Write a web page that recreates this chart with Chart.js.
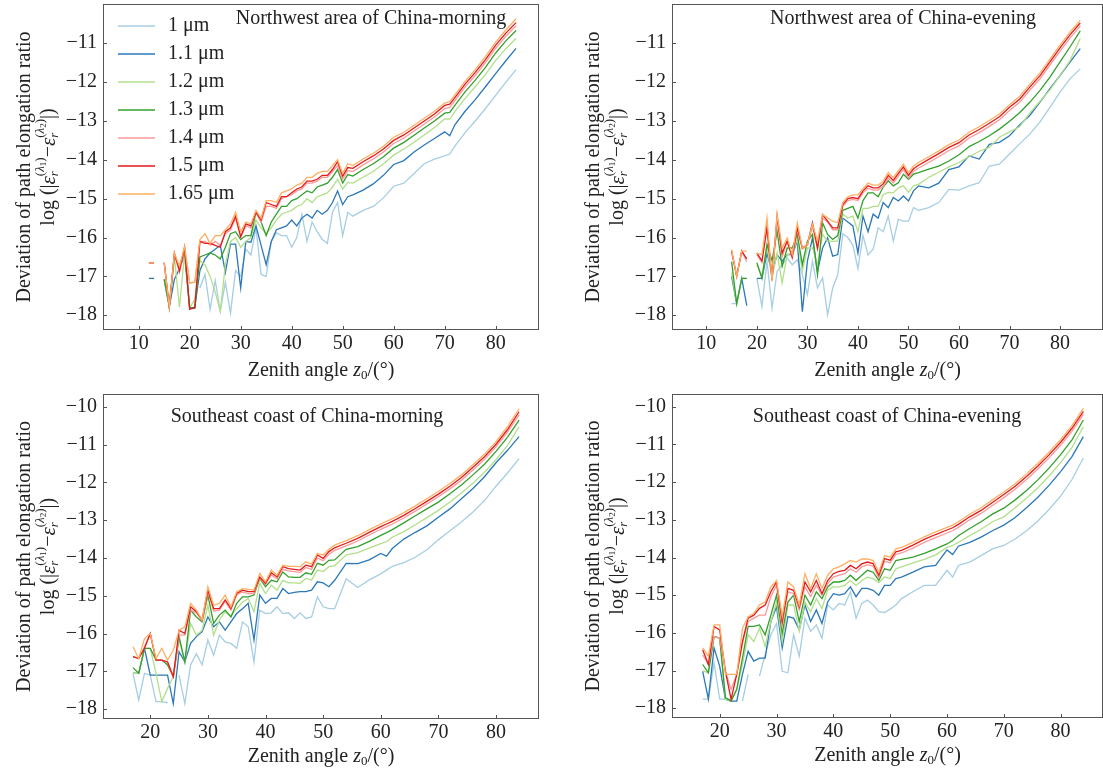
<!DOCTYPE html>
<html>
<head>
<meta charset="utf-8">
<script src="https://cdn.jsdelivr.net/npm/chart.js@4.4.1/dist/chart.umd.min.js"></script>
<style>
html, body { margin: 0; padding: 0; background: #fff; overflow: hidden; width: 1103px; height: 775px; }
canvas { position: absolute; }
</style>
</head>
<body>
<canvas id="cTL" width="560" height="390" style="left:0;top:0"></canvas>
<canvas id="cTR" width="543" height="390" style="left:560px;top:0"></canvas>
<canvas id="cBL" width="560" height="385" style="left:0;top:390px"></canvas>
<canvas id="cBR" width="543" height="385" style="left:560px;top:390px"></canvas>
<script>
// legend labels and line colours, one per wavelength
const wavelengths = ['1 \u03bcm', '1.1 \u03bcm', '1.2 \u03bcm', '1.3 \u03bcm', '1.4 \u03bcm', '1.5 \u03bcm', '1.65 \u03bcm'];
const lineColors = ['#a6cee3', '#2b78b8', '#b2df8a', '#33a02c', '#fb9a99', '#e31a1c', '#fdb062'];

// tick labels
const xTicksTop = [10, 20, 30, 40, 50, 60, 70, 80];
const xTicksBottom = [20, 30, 40, 50, 60, 70, 80];
const yTicksTop = [-18, -17, -16, -15, -14, -13, -12, -11];
const yTicksBottom = [-18, -17, -16, -15, -14, -13, -12, -11, -10];

// ---- Northwest area of China - morning ----
const tlAngles = [12,13,14,15,16,17,18,19,20,21,22,23,24,25,26,27,28,29,30,31,32,33,34,35,36,37,38,39,40,41,42,43,44,45,46,47,48,49,50,51,52,54,56,58,60,62,64,66,68,70,71,72,74,76,78,80,82,84];
const tl100 = [null,null,null,null,null,null,null,null,null,null,
  -17.3,-16.95,-17.85,-17.1,-17.9,-17.15,-17.95,-16.85,-17.0,-16.3,
  -16.45,-15.75,-16.95,-17.0,-16.1,-15.88,-15.95,-15.95,-16.25,-16.0,
  -15.4,-16.1,-15.6,-15.85,-16.05,-16.15,-15.35,-15.1,-15.95,-15.35,
  -15.45,
  -15.3,-15.2,-14.98,-14.68,-14.6,-14.35,-14.1,-13.98,-13.9,-13.85,-13.65,-13.3,-13.0,-12.68,-12.34,-12.0,-11.68];
const tl110 = [-17.05,-17.05,null,-17.08,-17.78,-17.08,-16.8,-16.45,-17.82,-17.8,
  -16.85,-16.55,-16.4,-16.3,-16.2,-16.9,-16.17,-16.17,-17.3,-16.1,
  -16.12,-15.7,-16.2,-16.7,-16.1,-15.8,-15.75,-15.7,-15.55,-15.7,
  -15.5,-15.4,-15.5,-15.3,-15.4,-15.3,-15.1,-14.8,-15.15,-14.95,
  -14.9,
  -14.78,-14.62,-14.4,-14.12,-14.02,-13.8,-13.62,-13.45,-13.28,-13.38,-13.1,-12.75,-12.45,-12.12,-11.78,-11.45,-11.13];
const tl120 = [null,null,null,-17.08,-17.78,-16.5,-17.8,-16.4,-17.8,-17.6,
  -16.6,-16.7,-17.0,-17.4,-17.9,-16.7,-16.1,-16.0,-16.25,-16.1,
  -16.0,-15.55,-15.75,-15.9,-15.75,-15.55,-15.4,-15.35,-15.3,-15.2,
  -15.15,-15.0,-15.1,-14.95,-14.9,-14.85,-14.7,-14.5,-14.75,-14.58,
  -14.6,
  -14.45,-14.3,-14.1,-13.88,-13.72,-13.55,-13.36,-13.17,-12.95,-12.95,-12.76,-12.42,-12.12,-11.8,-11.44,-11.14,-10.87];
const tl130 = [null,null,null,-17.08,-17.78,-16.48,-16.74,-16.31,-17.82,-17.82,
  -16.5,-16.45,-16.4,-16.45,-16.55,-16.25,-15.9,-15.85,-16.05,-15.95,
  -15.95,-15.35,-15.6,-15.95,-15.6,-15.4,-15.2,-15.2,-15.05,-15.0,
  -14.9,-14.8,-14.85,-14.7,-14.65,-14.6,-14.45,-14.25,-14.6,-14.38,
  -14.42,
  -14.25,-14.1,-13.92,-13.7,-13.55,-13.37,-13.18,-13.0,-12.8,-12.78,-12.6,-12.25,-11.95,-11.62,-11.25,-10.94,-10.67];
const tl140 = [-16.65,-16.65,null,-16.65,-17.78,-16.42,-16.9,-16.28,-17.17,-17.15,
  -16.1,-16.1,-16.2,-16.1,-16.2,-15.9,-15.8,-15.5,-16.0,-15.7,
  -15.75,-15.35,-15.6,-15.2,-15.2,-15.25,-15.0,-14.95,-14.9,-14.8,
  -14.75,-14.6,-14.6,-14.55,-14.45,-14.45,-14.3,-14.15,-14.5,-14.28,
  -14.3,
  -14.13,-13.98,-13.8,-13.58,-13.44,-13.26,-13.08,-12.9,-12.68,-12.65,-12.48,-12.13,-11.83,-11.5,-11.13,-10.82,-10.55];
const tl150 = [-16.65,-16.65,null,-16.65,-17.78,-16.4,-16.85,-16.25,-17.85,-17.8,
  -16.1,-16.15,-16.15,-16.2,-16.25,-15.85,-15.75,-15.45,-15.98,-15.65,
  -15.7,-15.35,-15.55,-15.1,-15.15,-15.2,-14.95,-14.95,-14.85,-14.75,
  -14.7,-14.55,-14.55,-14.5,-14.4,-14.4,-14.25,-14.05,-14.42,-14.2,
  -14.22,
  -14.05,-13.9,-13.72,-13.5,-13.36,-13.18,-13.0,-12.82,-12.6,-12.57,-12.4,-12.05,-11.75,-11.42,-11.05,-10.74,-10.47];
const tl165 = [-16.65,-16.65,null,-16.65,-17.78,-16.4,-16.74,-16.23,-17.17,-17.15,
  -16.05,-15.9,-16.15,-15.95,-15.95,-15.8,-15.65,-15.35,-15.85,-15.6,
  -15.65,-15.3,-15.5,-15.05,-15.05,-15.1,-14.85,-14.8,-14.75,-14.65,
  -14.6,-14.45,-14.45,-14.35,-14.3,-14.3,-14.15,-14.0,-14.35,-14.1,
  -14.15,
  -13.98,-13.83,-13.65,-13.42,-13.29,-13.11,-12.93,-12.75,-12.54,-12.5,-12.33,-11.98,-11.68,-11.34,-10.97,-10.66,-10.37];

// ---- Northwest area of China - evening ----
const trAngles = [15,16,17,18,19,20,21,22,23,24,25,26,27,28,29,30,31,32,33,34,35,36,37,38,39,40,41,42,43,44,45,46,47,48,49,50,51,52,54,56,58,60,62,64,66,68,70,72,74,76,78,80,82,84];
const tr100 = [-17.7,-17.7,null,null,null,-17.05,-17.78,-16.61,-17.82,-16.87,
  -16.7,-16.53,-16.7,-16.57,-16.96,-17.47,-16.61,-17.3,-17.04,-17.99,
  -17.3,-16.96,-15.9,-16.0,-16.2,-16.8,-15.95,-16.45,-16.3,-15.75,
  -15.85,-15.45,-16.09,-15.53,-15.58,-15.58,-15.23,-15.3,
  -15.23,-15.1,-14.76,-14.78,-14.67,-14.59,-14.16,-14.11,-13.85,-13.59,-13.34,-13.03,-12.65,-12.26,-11.91,-11.66];
const tr110 = [-17.0,-17.7,-17.05,-17.75,null,-17.05,-17.05,-16.4,-16.9,-16.44,
  -16.61,-16.44,-16.44,-16.09,-17.91,-16.61,-16.01,-16.87,-16.27,-16.01,
  -16.48,-16.44,-15.5,-15.6,-15.7,-16.4,-15.45,-15.85,-15.4,-15.5,
  -15.1,-15.23,-14.97,-15.06,-14.93,-15.06,-14.8,-14.67,
  -14.72,-14.6,-14.25,-14.18,-13.9,-13.98,-13.6,-13.55,-13.38,-13.1,-12.86,-12.52,-12.17,-11.83,-11.48,-11.14];
const tr120 = [-16.9,-17.7,-17.05,-17.05,null,-16.7,-17.0,-16.22,-17.04,-16.4,
  -17.17,-16.44,-16.4,-16.05,-16.87,-16.27,-16.27,-16.7,-15.92,-16.09,
  -16.1,-16.09,-15.4,-15.5,-15.45,-15.85,-15.25,-15.25,-15.2,-15.2,
  -14.9,-14.84,-14.85,-14.72,-14.67,-14.84,-14.67,-14.63,
  -14.45,-14.32,-14.18,-14.07,-13.92,-13.78,-13.68,-13.42,-13.28,-13.15,-12.8,-12.5,-12.2,-11.83,-11.44,-10.88];
const tr130 = [-16.62,-17.7,-17.05,-17.05,null,-16.65,-17.05,-16.18,-16.6,-15.84,
  -16.74,-16.27,-16.27,-15.92,-16.7,-16.09,-15.92,-16.96,-15.62,-15.92,
  -16.05,-15.95,-15.3,-15.25,-15.2,-15.5,-15.05,-14.85,-14.85,-14.95,
  -14.7,-14.54,-14.67,-14.59,-14.37,-14.5,-14.37,-14.33,
  -14.24,-14.16,-14.03,-13.87,-13.66,-13.53,-13.38,-13.21,-13.01,-12.79,-12.52,-12.22,-11.87,-11.48,-11.09,-10.68];
const tr140 = [-16.35,-17.0,-16.35,-16.62,null,-16.45,-16.65,-15.7,-17.0,-15.55,
  -16.5,-16.1,-16.53,-15.8,-16.3,-16.2,-15.7,-16.3,-15.5,-15.6,
  -15.8,-15.8,-15.2,-15.05,-15.02,-15.05,-14.85,-14.73,-14.78,-14.78,
  -14.68,-14.47,-14.6,-14.42,-14.25,-14.47,-14.3,-14.21,
  -14.07,-13.92,-13.76,-13.64,-13.44,-13.3,-13.14,-12.97,-12.73,-12.52,-12.21,-11.92,-11.56,-11.2,-10.86,-10.56];
const tr150 = [-16.35,-17.0,-16.35,-16.55,null,-16.4,-16.6,-15.75,-17.1,-15.45,
  -16.4,-16.09,-16.5,-15.75,-16.27,-16.18,-15.62,-16.27,-15.41,-15.58,
  -15.75,-15.75,-15.15,-15.0,-14.97,-15.0,-14.8,-14.67,-14.72,-14.72,
  -14.62,-14.4,-14.53,-14.35,-14.18,-14.4,-14.23,-14.14,
  -13.99,-13.84,-13.68,-13.56,-13.36,-13.22,-13.06,-12.89,-12.65,-12.44,-12.13,-11.84,-11.48,-11.12,-10.78,-10.48];
const tr165 = [-16.31,-17.0,-16.35,-16.35,null,-16.4,-16.44,-15.49,-17.13,-15.41,
  -16.27,-16.01,-16.44,-15.62,-16.27,-16.18,-15.66,-16.09,-15.41,-15.49,
  -15.58,-15.62,-15.1,-14.95,-14.9,-14.9,-14.75,-14.6,-14.65,-14.65,
  -14.55,-14.33,-14.46,-14.28,-14.11,-14.33,-14.16,-14.07,
  -13.92,-13.77,-13.61,-13.49,-13.29,-13.15,-12.99,-12.82,-12.58,-12.37,-12.06,-11.77,-11.41,-11.05,-10.71,-10.41];

// ---- Southeast coast of China - morning ----
const blAngles = [17,18,19,20,21,22,23,24,25,26,27,28,29,30,31,32,33,34,35,36,37,38,39,40,41,42,43,44,45,46,47,48,49,50,51,52,54,56,58,60,61,62,64,66,68,70,72,74,76,78,80,82,84];
const bl100 = [-17.05,-17.76,-17.05,-17.1,-17.8,-17.8,-17.83,null,-17.1,-17.85,
  -16.83,-16.53,-16.83,-16.17,-16.57,-16.04,-16.22,-16.26,-16.39,-15.69,
  -15.82,-16.75,-15.38,-15.47,-15.45,-15.29,-15.47,-15.45,-15.6,-15.45,
  -15.6,-15.56,-15.03,-15.29,-15.34,-15.34,
  -14.55,-14.78,-14.58,-14.42,-14.32,-14.22,-14.12,-13.98,-13.78,-13.52,-13.28,-13.05,-12.78,-12.48,-12.1,-11.75,-11.37];
const bl110 = [-17.05,-17.05,-16.39,-17.1,-17.1,-17.1,-17.1,-17.85,-16.48,-16.75,
  -16.26,-16.08,-15.95,-15.56,-15.82,-15.69,-15.91,-15.69,-15.47,-15.34,
  -15.2,-16.17,-14.98,-15.2,-15.07,-15.07,-14.81,-14.94,-14.91,-14.89,
  -14.89,-14.85,-14.63,-14.66,-14.76,-14.59,
  -14.14,-14.15,-14.05,-13.88,-13.95,-13.75,-13.5,-13.32,-13.15,-12.92,-12.7,-12.43,-12.16,-11.85,-11.48,-11.15,-10.79];
const bl120 = [-17.05,-17.05,-16.39,-16.39,-17.05,-17.8,-17.45,-17.14,-16.17,-16.75,
  -15.73,-16.04,-15.91,-15.25,-16.04,-15.64,-15.42,-15.54,-15.34,-15.17,
  -15.07,-15.42,-14.67,-14.94,-14.72,-14.85,-14.59,-14.66,-14.66,-14.67,
  -14.54,-14.58,-14.32,-14.36,-14.23,-14.2,
  -13.92,-13.86,-13.74,-13.62,-13.57,-13.45,-13.3,-13.12,-12.93,-12.74,-12.52,-12.28,-12.02,-11.73,-11.4,-11.02,-10.53];
const bl130 = [-16.9,-17.05,-16.39,-16.39,-16.7,-16.7,-16.83,-17.14,-16.08,-16.75,
  -15.38,-15.56,-15.69,-14.98,-15.73,-15.51,-15.38,-15.56,-15.2,-15.03,
  -15.03,-14.98,-14.54,-14.76,-14.59,-14.63,-14.37,-14.5,-14.51,-14.51,
  -14.39,-14.43,-14.14,-14.19,-14.06,-14.05,
  -13.77,-13.7,-13.56,-13.4,-13.33,-13.25,-13.07,-12.88,-12.7,-12.52,-12.3,-12.07,-11.8,-11.52,-11.18,-10.8,-10.35];
const bl140 = [-16.61,-16.66,-16.35,-16.0,-16.7,-16.7,-16.75,-17.14,-16.04,-16.04,
  -15.38,-15.45,-15.66,-14.9,-15.4,-15.38,-15.15,-15.38,-14.98,-14.9,
  -14.94,-14.94,-14.52,-14.7,-14.45,-14.55,-14.3,-14.34,-14.36,-14.38,
  -14.25,-14.3,-14.0,-14.07,-13.9,-13.8,
  -13.68,-13.55,-13.39,-13.24,-13.17,-13.1,-12.94,-12.76,-12.57,-12.38,-12.17,-11.94,-11.67,-11.39,-11.06,-10.67,-10.21];
const bl150 = [-16.61,-16.66,-16.39,-16.0,-16.7,-16.7,-16.75,-17.14,-15.91,-16.0,
  -15.29,-15.42,-15.64,-14.85,-15.34,-15.34,-15.11,-15.34,-14.94,-14.85,
  -14.89,-14.89,-14.5,-14.67,-14.39,-14.5,-14.23,-14.28,-14.3,-14.32,
  -14.19,-14.23,-13.92,-14.01,-13.83,-13.73,
  -13.61,-13.48,-13.32,-13.17,-13.1,-13.03,-12.87,-12.69,-12.5,-12.31,-12.1,-11.87,-11.6,-11.32,-10.99,-10.6,-10.13];
const bl165 = [-16.35,-16.66,-16.13,-16.0,-16.66,-16.39,-16.7,-16.44,-15.91,-15.82,
  -15.2,-15.38,-15.64,-14.76,-15.25,-15.2,-14.98,-15.29,-14.89,-14.81,
  -14.83,-14.85,-14.41,-14.63,-14.32,-14.45,-14.19,-14.22,-14.22,-14.23,
  -14.1,-14.16,-13.88,-13.92,-13.77,-13.66,
  -13.54,-13.41,-13.25,-13.1,-13.03,-12.96,-12.8,-12.62,-12.43,-12.24,-12.03,-11.8,-11.53,-11.25,-10.92,-10.52,-10.05];

// ---- Southeast coast of China - evening ----
const brAngles = [17,18,19,20,21,22,23,24,25,26,27,28,29,30,31,32,33,34,35,36,37,38,39,40,41,42,43,44,45,46,47,48,49,50,51,52,54,56,58,60,61,62,64,66,68,70,72,74,76,78,80,82,84];
const br100 = [-17.76,-17.76,-16.8,-17.76,-17.76,-17.76,null,-17.81,-17.1,null,
  -17.15,-16.58,-16.05,-15.75,-17.02,-17.06,-16.05,-16.62,-15.61,-15.96,
  -15.79,-16.14,-15.26,-15.39,-15.22,-15.26,-14.91,-15.61,-15.22,-15.13,
  -15.26,-15.44,-15.46,-15.37,-15.26,-15.09,
  -14.91,-14.74,-14.74,-14.34,-14.52,-14.21,-14.12,-13.95,-13.77,-13.68,-13.51,-13.29,-13.03,-12.72,-12.37,-11.93,-11.36];
const br110 = [-17.02,-17.76,-16.4,-16.89,-17.76,-17.81,-17.81,-17.1,-16.49,-16.75,
  -16.67,-16.67,-15.7,-15.31,-16.4,-15.57,-15.61,-15.92,-15.26,-15.7,
  -15.39,-15.75,-15.18,-14.96,-15.0,-14.96,-14.78,-15.04,-14.82,-14.82,
  -14.87,-15.0,-14.74,-14.74,-14.56,-14.52,
  -14.39,-14.25,-14.21,-13.8,-13.92,-13.7,-13.6,-13.46,-13.29,-13.14,-12.94,-12.68,-12.4,-12.08,-11.72,-11.32,-10.79];
const br120 = [-17.0,-17.06,-16.1,-16.14,-17.76,-17.81,-17.5,-16.84,-16.05,-16.23,
  -15.88,-16.36,-15.7,-15.18,-16.23,-15.26,-15.26,-15.96,-15.18,-15.44,
  -15.09,-15.35,-14.87,-14.78,-14.78,-14.74,-14.61,-14.74,-14.61,-14.52,
  -14.56,-14.67,-14.52,-14.56,-14.3,-14.25,
  -14.14,-14.05,-13.93,-13.73,-13.68,-13.6,-13.42,-13.25,-13.05,-12.92,-12.68,-12.42,-12.15,-11.83,-11.48,-11.08,-10.53];
const br130 = [-16.84,-17.06,-16.1,-16.14,-17.72,-17.81,-17.5,-16.67,-15.83,-15.83,
  -15.79,-16.05,-15.53,-15.0,-16.01,-15.18,-15.0,-15.7,-15.0,-15.26,
  -14.91,-15.09,-14.78,-14.65,-14.65,-14.61,-14.47,-14.61,-14.47,-14.34,
  -14.39,-14.61,-14.3,-14.34,-14.08,-14.05,
  -13.99,-13.89,-13.77,-13.64,-13.55,-13.42,-13.23,-13.05,-12.85,-12.69,-12.47,-12.22,-11.94,-11.62,-11.27,-10.88,-10.35];
const br140 = [-16.58,-16.84,-16.1,-16.14,-17.02,-17.5,-17.1,-16.27,-15.7,-15.61,
  -15.53,-15.53,-15.04,-14.74,-15.83,-14.91,-14.96,-15.39,-14.78,-15.04,
  -14.74,-15.0,-14.69,-14.52,-14.47,-14.43,-14.3,-14.39,-14.25,-14.19,
  -14.23,-14.54,-14.1,-14.14,-13.92,-13.88,
  -13.75,-13.6,-13.47,-13.35,-13.29,-13.2,-13.0,-12.83,-12.62,-12.41,-12.19,-11.93,-11.65,-11.35,-11.02,-10.65,-10.2];
const br150 = [-16.45,-16.84,-15.83,-15.92,-17.02,-17.76,-17.1,-16.23,-15.61,-15.53,
  -15.35,-15.26,-14.91,-14.65,-15.7,-14.82,-14.87,-15.31,-14.65,-14.91,
  -14.61,-14.96,-14.61,-14.43,-14.37,-14.34,-14.21,-14.3,-14.17,-14.12,
  -14.16,-14.47,-14.03,-14.07,-13.85,-13.81,
  -13.67,-13.52,-13.39,-13.27,-13.21,-13.12,-12.92,-12.75,-12.54,-12.33,-12.11,-11.85,-11.57,-11.27,-10.94,-10.57,-10.12];
const br165 = [-16.4,-16.62,-15.79,-15.79,-17.1,-17.1,-17.1,-15.88,-15.57,-15.48,
  -15.26,-15.18,-14.78,-14.61,-15.57,-14.65,-14.78,-15.26,-14.43,-14.82,
  -14.43,-14.82,-14.47,-14.3,-14.25,-14.17,-14.08,-14.12,-14.04,-14.04,
  -14.08,-14.39,-13.95,-13.99,-13.77,-13.73,
  -13.6,-13.45,-13.32,-13.2,-13.14,-13.05,-12.85,-12.68,-12.47,-12.26,-12.04,-11.78,-11.5,-11.2,-10.87,-10.5,-10.04];

const FONT = '"Liberation Serif", "Times New Roman", serif';
Chart.defaults.font.family = FONT;
Chart.defaults.color = '#222';

// draws a run of text pieces (for sub/superscripts), centred on cx
function drawRich(ctx, parts, cx, cy) {
  let w = 0;
  parts.forEach(p => {
    ctx.font = (p.it ? 'italic ' : '') + p.size + 'px ' + FONT;
    p.w = ctx.measureText(p.t).width;
    if (p.adv !== false) w += p.w;
  });
  let x = cx - w / 2;
  ctx.textAlign = 'left';
  ctx.textBaseline = 'middle';
  parts.forEach(p => {
    ctx.font = (p.it ? 'italic ' : '') + p.size + 'px ' + FONT;
    ctx.fillText(p.t, x, cy + (p.dy || 0));
    if (p.adv !== false) x += p.w;
  });
}

function epsParts(n) {
  return [
    { t: '\u03b5', size: 21, it: true },
    { t: 'r', size: 13, it: true, dy: 6, adv: false },
    { t: '(', size: 13, dy: -8 },
    { t: '\u03bb', size: 13, it: true, dy: -8 },
    { t: n, size: 9, dy: -5 },
    { t: ')', size: 13, dy: -8 }
  ];
}

const panelPlugin = {
  id: 'panel',
  afterDraw(chart, args, o) {
    const ctx = chart.ctx, a = chart.chartArea;
    const xs = chart.scales.x, ys = chart.scales.y;
    ctx.save();
    // frame and inward ticks
    ctx.strokeStyle = '#555';
    ctx.lineWidth = 1;
    ctx.strokeRect(a.left + 0.5, a.top + 0.5, a.right - a.left - 1, a.bottom - a.top - 1);
    ctx.beginPath();
    ys.ticks.forEach(t => {
      const py = Math.round(ys.getPixelForValue(t.value)) + 0.5;
      ctx.moveTo(a.left, py); ctx.lineTo(a.left + 4, py);
    });
    xs.ticks.forEach(t => {
      const px = Math.round(xs.getPixelForValue(t.value)) + 0.5;
      ctx.moveTo(px, a.bottom); ctx.lineTo(px, a.bottom - 4);
    });
    ctx.stroke();

    ctx.fillStyle = '#222';
    // panel title
    ctx.font = '20px ' + FONT;
    ctx.textAlign = 'center';
    ctx.textBaseline = 'middle';
    ctx.fillText(o.title, o.titleX, o.titleY);

    // legend (first panel only)
    if (o.legend) {
      chart.data.datasets.forEach((ds, i) => {
        const y = a.top + 22 + i * 28;
        ctx.strokeStyle = ds.borderColor;
        ctx.lineWidth = 1.5;
        ctx.beginPath();
        ctx.moveTo(a.left + 15, y); ctx.lineTo(a.left + 52, y);
        ctx.stroke();
        ctx.font = '20px ' + FONT;
        ctx.textAlign = 'left';
        ctx.fillText(ds.label, a.left + 65, y);
      });
    }

    // x axis title
    drawRich(ctx, [
      { t: 'Zenith angle ', size: 20 },
      { t: 'z', size: 20, it: true },
      { t: '0', size: 13, dy: 5 },
      { t: '/(\u00b0)', size: 20 }
    ], (a.left + a.right) / 2, a.bottom + o.xTitleDy);

    // y axis title, two rotated lines
    const cy = (a.top + a.bottom) / 2;
    ctx.save();
    ctx.translate(a.left - 78, cy);
    ctx.rotate(-Math.PI / 2);
    drawRich(ctx, [{ t: 'Deviation of path elongation ratio', size: 20 }], 0, 0);
    ctx.restore();
    ctx.save();
    ctx.translate(a.left - 54, cy);
    ctx.rotate(-Math.PI / 2);
    drawRich(ctx, [{ t: 'log (|', size: 20 }]
      .concat(epsParts('1'))
      .concat([{ t: '\u2212', size: 20 }])
      .concat(epsParts('2'))
      .concat([{ t: '|)', size: 20 }]), 0, 0);
    ctx.restore();
    ctx.restore();
  }
};

function makePanel(id, angles, series, o) {
  const datasets = series.map((arr, i) => ({
    label: wavelengths[i],
    data: angles.map((a, j) => ({ x: a, y: arr[j] })),
    borderColor: lineColors[i],
    backgroundColor: lineColors[i],
    borderWidth: 1.3,
    pointRadius: 0,
    tension: 0,
    fill: false,
    spanGaps: false,
    order: series.length - i
  }));
  return new Chart(document.getElementById(id), {
    type: 'line',
    data: { datasets: datasets },
    options: {
      responsive: false,
      animation: false,
      devicePixelRatio: 1,
      layout: { padding: { left: 0, right: o.padR, top: 4, bottom: 0 } },
      scales: {
        x: {
          type: 'linear', min: o.xMin, max: o.xMax,
          grid: { display: false, drawTicks: false },
          border: { display: false },
          afterBuildTicks: s => { s.ticks = o.xTicks.map(v => ({ value: v })); },
          afterFit: s => { s.height = o.xH; s.paddingLeft = 0; s.paddingRight = 0; },
          ticks: { font: { size: 20 }, color: '#222', padding: 2, maxRotation: 0, autoSkip: false }
        },
        y: {
          type: 'linear', min: o.yMin, max: o.yMax,
          grid: { display: false, drawTicks: false },
          border: { display: false },
          afterBuildTicks: s => { s.ticks = o.yTicks.map(v => ({ value: v })); },
          afterFit: s => { s.width = o.yW; s.paddingTop = 0; s.paddingBottom = 0; },
          ticks: {
            font: { size: 20 }, color: '#222', padding: 6, autoSkip: false,
            callback: v => (v < 0 ? '\u2212' : '') + Math.abs(v)
          }
        }
      },
      plugins: { legend: { display: false }, tooltip: { enabled: false }, panel: o }
    },
    plugins: [panelPlugin]
  });
}

makePanel('cTL', tlAngles, [tl100, tl110, tl120, tl130, tl140, tl150, tl165], {
  title: 'Northwest area of China-morning', titleX: 371, titleY: 19, legend: true,
  xMin: 3.0, xMax: 88.5, yMin: -18.38, yMax: -9.99, xTicks: xTicksTop, yTicks: yTicksTop,
  yW: 103, xH: 60, padR: 21, xTitleDy: 41
});
// right-hand panels run past the window edge, as in the original figure
makePanel('cTR', trAngles, [tr100, tr110, tr120, tr130, tr140, tr150, tr165], {
  title: 'Northwest area of China-evening', titleX: 343, titleY: 19, legend: false,
  xMin: 3.2, xMax: 88.5, yMin: -18.38, yMax: -9.99, xTicks: xTicksTop, yTicks: yTicksTop,
  yW: 112, xH: 60, padR: -7, xTitleDy: 41
});
makePanel('cBL', blAngles, [bl100, bl110, bl120, bl130, bl140, bl150, bl165], {
  title: 'Southeast coast of China-morning', titleX: 307, titleY: 27, legend: false,
  xMin: 11.8, xMax: 87.46, yMin: -18.26, yMax: -9.66, xTicks: xTicksBottom, yTicks: yTicksBottom,
  yW: 103, xH: 56, padR: 21, xTitleDy: 38
});
makePanel('cBR', brAngles, [br100, br110, br120, br130, br140, br150, br165], {
  title: 'Southeast coast of China-evening', titleX: 327, titleY: 27, legend: false,
  xMin: 11.6, xMax: 87.46, yMin: -18.26, yMax: -9.66, xTicks: xTicksBottom, yTicks: yTicksBottom,
  yW: 112, xH: 57, padR: -4, xTitleDy: 38
});
</script>
</body>
</html>
